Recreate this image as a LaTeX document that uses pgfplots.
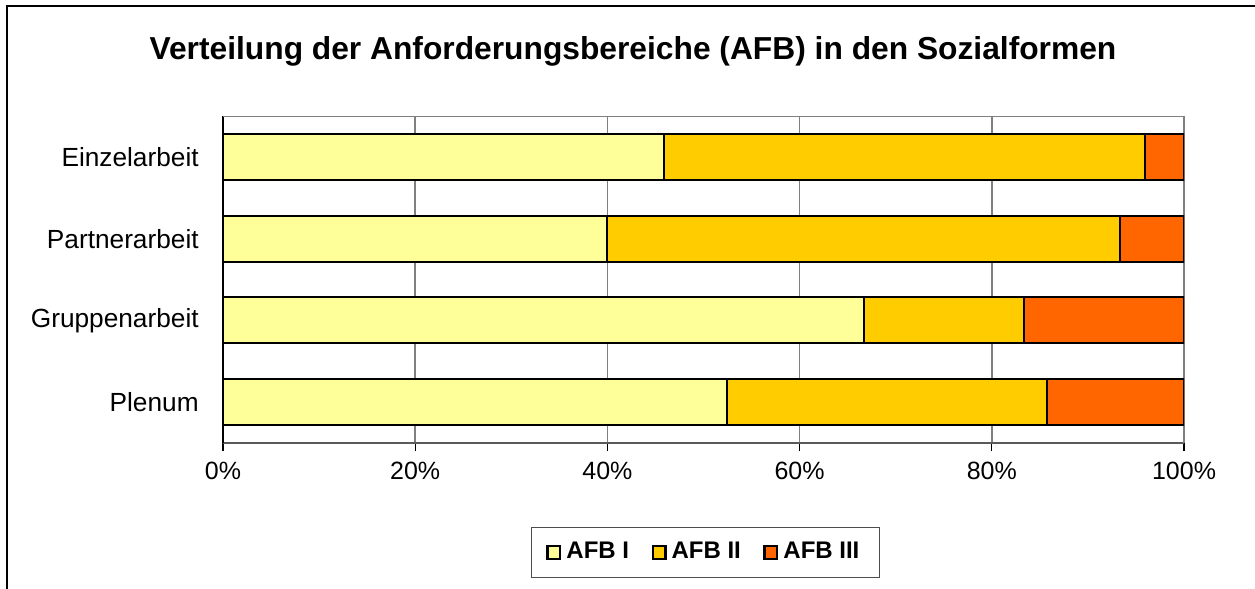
\documentclass[border=0pt]{standalone}
\usepackage{pgfplots}
\pgfplotsset{compat=1.18}
\usepackage{fontspec}
\setmainfont{Liberation Sans}
\definecolor{afbI}{HTML}{FFFF99}
\definecolor{afbII}{HTML}{FFCC00}
\definecolor{afbIII}{HTML}{FF6600}
\definecolor{gridgray}{HTML}{808080}
\begin{document}
\begin{tikzpicture}
\useasboundingbox (0pt,0pt) rectangle (502pt,-235.2pt);
\draw[line width=0.8pt] (2.8pt,-250pt) -- (2.8pt,-2.4pt) -- (520pt,-2.4pt);
\node[font=\bfseries\fontsize{12.7}{14}\selectfont] at (253.2pt,-20.4pt) {Verteilung der Anforderungsbereiche (AFB) in den Sozialformen};
\begin{axis}[
  at={(89.2pt,-177.2pt)}, anchor=south west,
  scale only axis, width=384.4pt, height=130.8pt,
  xbar stacked, bar width=18.4pt,
  xmin=0, xmax=100, ymin=-0.5, ymax=3.5,
  axis x line*=bottom, axis y line*=left,
  axis line style={line width=0.6pt},
  x axis line style={gridgray!70!black},
  xtick={0,20,40,60,80,100},
  xticklabel={\pgfmathprintnumber{\tick}\%},
  /pgf/number format/assume math mode=true,
  xmajorgrids, major grid style={gridgray, line width=0.6pt},
  ytick={0,1,2,3},
  yticklabels={Plenum,Gruppenarbeit,Partnerarbeit,Einzelarbeit},
  minor ytick={-0.5,0.5,1.5,2.5,3.5},
  tick align=outside,
  major tick length=3.2pt,
  ytick style={draw=none},
  minor tick style={draw=black, line width=0.5pt},
  minor tick length=3.2pt,
  xtick style={draw=black, line width=0.5pt},
  tick label style={font=\fontsize{10}{12}\selectfont},
  yticklabel style={xshift=-3pt, font=\fontsize{10.5}{12}\selectfont},
  xticklabel style={yshift=-1pt},
  legend style={at={(0.502,-0.335)}, anchor=center, legend columns=3,
    draw=gridgray!60!black, line width=0.6pt, inner xsep=6pt, inner ysep=4pt,
    font=\bfseries\fontsize{9.6}{11}\selectfont,
    /tikz/every even column/.append style={column sep=7pt}},
  legend image code/.code={\draw[#1,line width=1pt] (0pt,-2.6pt) rectangle (5pt,2.6pt);},
  every axis plot/.append style={draw=black, line width=0.8pt},
]
\addplot[fill=afbI] coordinates {(52.4,0) (66.7,1) (40.0,2) (45.9,3)};
\addplot[fill=afbII] coordinates {(33.3,0) (16.7,1) (53.3,2) (50.0,3)};
\addplot[fill=afbIII] coordinates {(14.3,0) (16.6,1) (6.7,2) (4.1,3)};
\legend{AFB I,AFB II,AFB III}
\draw[gridgray, line width=0.6pt] (rel axis cs:0,1) -- (rel axis cs:1,1) -- (rel axis cs:1,0);
\end{axis}
\end{tikzpicture}
\end{document}
